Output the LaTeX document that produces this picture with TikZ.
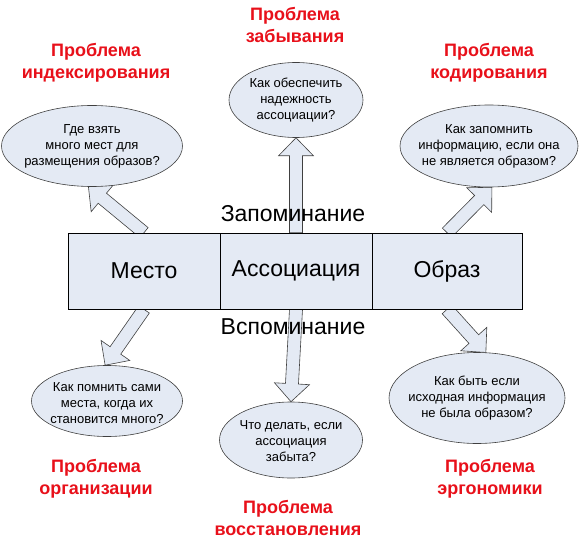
\documentclass[tikz,border=0pt]{standalone}
\usepackage{fontspec}
\setmainfont{Liberation Sans}
\usetikzlibrary{calc,shapes.geometric,backgrounds}
\definecolor{fillb}{HTML}{E4EAF4}
\definecolor{redt}{HTML}{E8101A}
\definecolor{edge}{HTML}{404040}
\newcommand\fatarrow[2]{%
  \coordinate (nk) at ($(#2)!18pt!(#1)$);
  \draw[arr] ($(#1)!6.5pt!90:(#2)$) -- ($(nk)!6.5pt!90:(#2)$) -- ($(nk)!17.5pt!90:(#2)$)
    -- (#2) -- ($(nk)!17.5pt!-90:(#2)$) -- ($(nk)!6.5pt!-90:(#2)$) -- ($(#1)!6.5pt!-90:(#2)$) -- cycle;}
\begin{document}
\begin{tikzpicture}[x=1pt,y=-1pt,
  cell/.style={draw=black, fill=fillb, minimum width=152pt, minimum height=76pt, inner sep=0pt, font=\fontsize{23}{27}\selectfont, line width=0.7pt},
  q/.style={ellipse, draw=edge, fill=fillb, inner sep=0pt, line width=0.6pt},
  qt/.style={align=center, inner sep=0pt, font=\fontsize{13}{16}\selectfont},
  ttl/.style={text=redt, align=center, inner sep=0pt, font=\bfseries\fontsize{18}{22}\selectfont},
  lbl/.style={inner sep=0pt, font=\fontsize{23}{27}\selectfont},
  arr/.style={draw=edge, fill=fillb, line width=0.6pt, line join=miter}]
\useasboundingbox (0,0) rectangle (580,540);

% main box
\node[cell] (m) at (144,271) {Место};
\node[cell] (a) at (296,271) {Ассоциация};
\node[cell, minimum width=150pt] (o) at (447,271) {Образ};

% question ellipses
\node[q, minimum width=181pt, minimum height=81pt] (e1) at (92,146) {};
\node[qt] (e1t) at (e1) {Где взять\\много мест для\\размещения образов?};
\node[q, minimum width=134pt, minimum height=75pt] (e2) at (296,100) {};
\node[qt] (e2t) at (e2) {Как обеспечить\\надежность\\ассоциации?};
\node[q, minimum width=178pt, minimum height=82pt] (e3) at (489,146) {};
\node[qt] (e3t) at (e3) {Как запомнить\\информацию, если она\\не является образом?};
\node[q, minimum width=151pt, minimum height=71pt] (e4) at (107,401) {};
\node[qt] (e4t) at ([yshift=-2pt]e4.center) {Как помнить сами\\места, когда их\\становится много?};
\node[q, minimum width=143pt, minimum height=76pt] (e5) at (291,440) {};
\node[qt] (e5t) at ([yshift=-1pt]e5.center) {Что делать, если\\ассоциация\\забыта?};
\node[q, minimum width=176pt, minimum height=91pt] (e6) at (477,398) {};
\node[qt] (e6t) at (e6) {Как быть если\\исходная информация\\не была образом?};

% block arrows
\begin{pgfonlayer}{background}
\fatarrow{m.north}{e1.265}
\fatarrow{a.north}{e2.south}
\fatarrow{o.north}{e3.274}
\fatarrow{m.south}{e4.93}
\fatarrow{a.south}{e5.north}
\fatarrow{o.south}{e6.79}
\end{pgfonlayer}

% labels
\node[lbl] (z1) at (293,214) {Запоминание};
\node[lbl] (z2) at (293,327) {Вспоминание};

% red titles
\node[ttl] (p1) at (96,62.5) {Проблема\\индексирования};
\node[ttl] (p2) at (295,25) {Проблема\\забывания};
\node[ttl] (p3) at (489,62.5) {Проблема\\кодирования};
\node[ttl] (p4) at (96,478.5) {Проблема\\организации};
\node[ttl] (p5) at (288,518) {Проблема\\восстановления};
\node[ttl] (p6) at (490,478.5) {Проблема\\эргономики};
\end{tikzpicture}
\end{document}
